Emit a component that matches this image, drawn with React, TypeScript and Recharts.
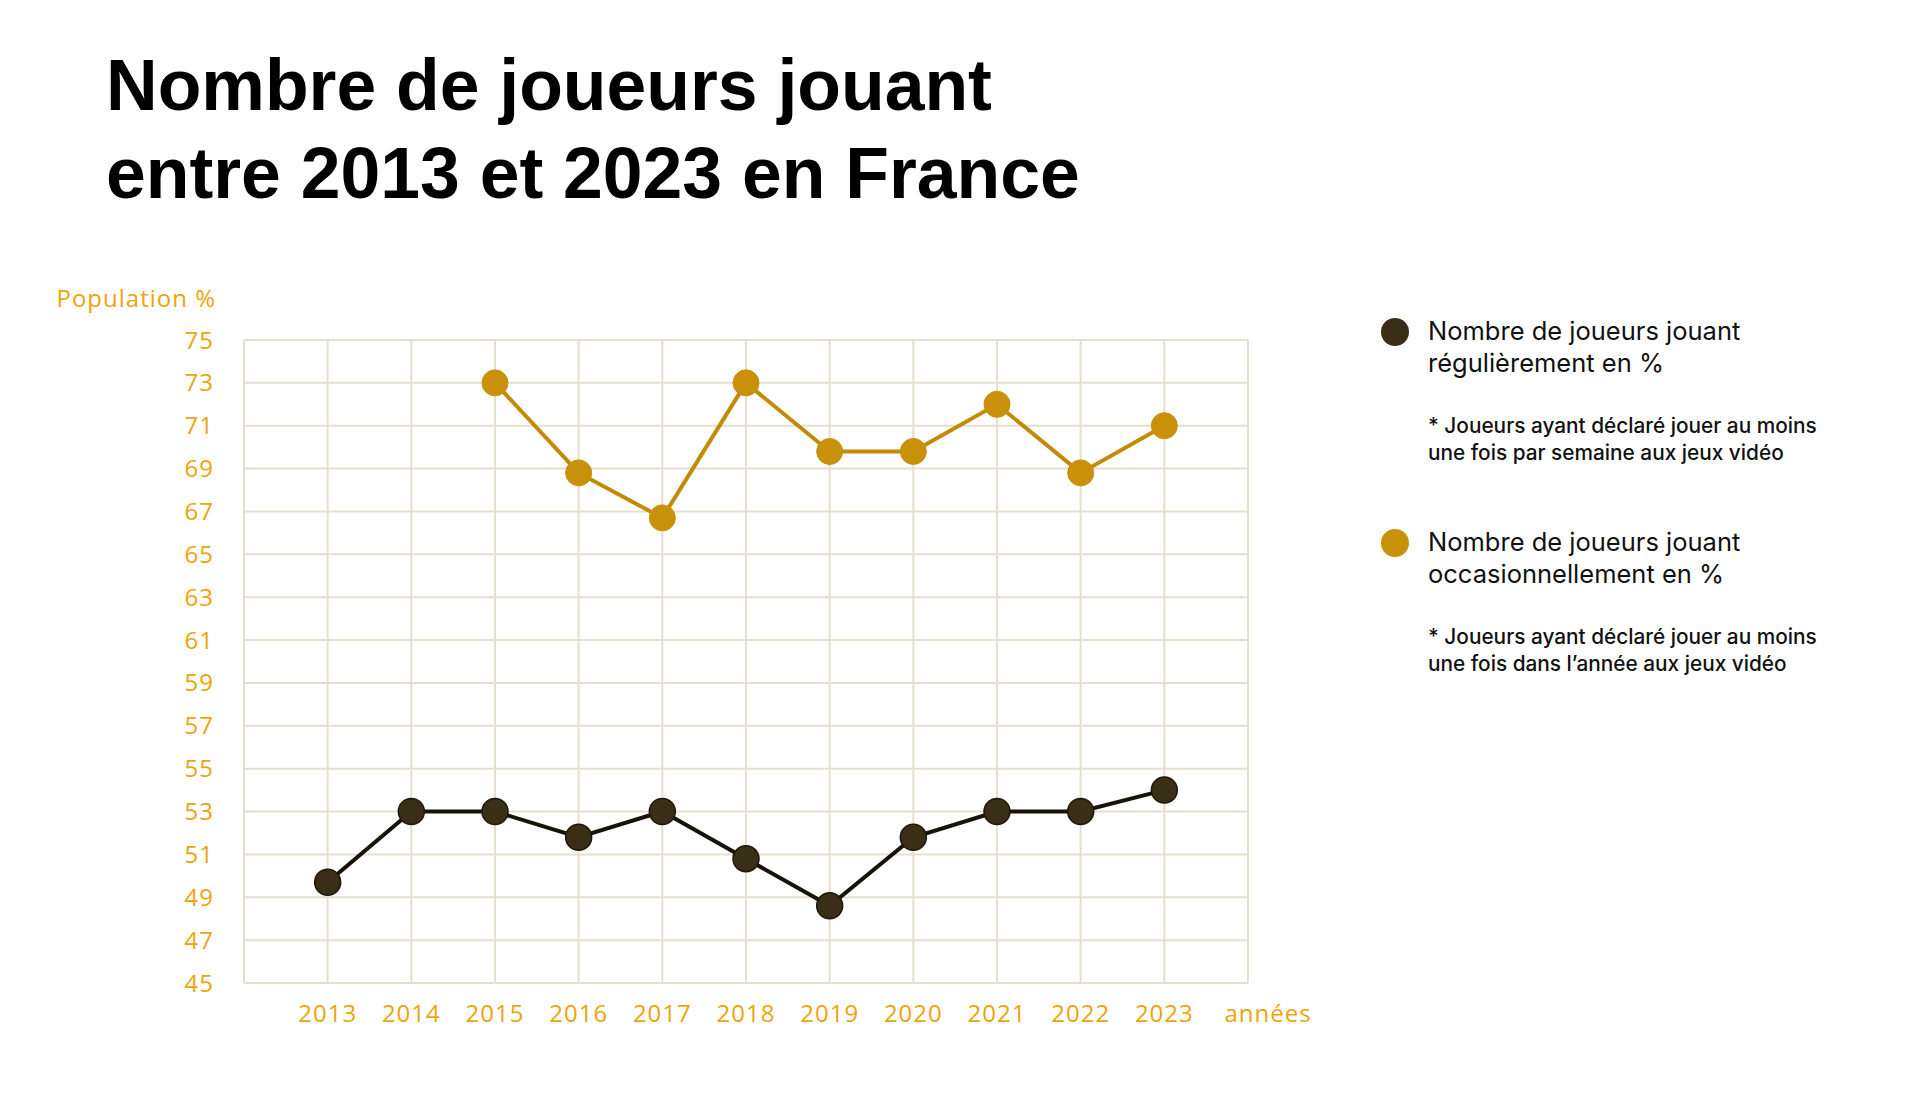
import React from "react";
import { LineChart, Line, XAxis, YAxis, CartesianGrid } from "recharts";

// values
const years = [2013, 2014, 2015, 2016, 2017, 2018, 2019, 2020, 2021, 2022, 2023];
const regular = [49.7, 53, 53, 51.8, 53, 50.8, 48.6, 51.8, 53, 53, 54];
const occasional = [null, null, 73, 68.8, 66.7, 73, 69.8, 69.8, 72, 68.8, 71];

const xTicks = [2012, 2013, 2014, 2015, 2016, 2017, 2018, 2019, 2020, 2021, 2022, 2023, 2024];
const yTicks = [45, 47, 49, 51, 53, 55, 57, 59, 61, 63, 65, 67, 69, 71, 73, 75];

const DARK = "#3a2f16";
const DARK_LINE = "#17130a";
const GOLD = "#c9910a";
const GOLD_LINE = "#c38a05";
const ORANGE = "#eea30b";
const GRID = "#e6dfd0";
const AXIS_FONT = "'Open Sans', sans-serif";

const data = years.map((year, i) => ({
  year,
  regular: regular[i],
  occasional: occasional[i]
}));

const legendItems = [
  {
    color: DARK,
    title: ["Nombre de joueurs jouant", "régulièrement en %"],
    note: ["* Joueurs ayant déclaré jouer au moins", "une fois par semaine aux jeux vidéo"],
    top: 316
  },
  {
    color: GOLD,
    title: ["Nombre de joueurs jouant", "occasionnellement en %"],
    note: ["* Joueurs ayant déclaré jouer au moins", "une fois dans l’année aux jeux vidéo"],
    top: 527
  }
];

function XTick({ x, y, payload }: any) {
  let label = String(payload.value);
  let dx = 0;
  if (payload.value === 2012) label = "";
  if (payload.value === 2024) {
    label = "années";
    dx = 20;
  }
  return (
    <text
      x={x + dx}
      y={y}
      dy="0.71em"
      textAnchor="middle"
      fill={ORANGE}
      fontSize={24}
      letterSpacing={1}
      fontFamily={AXIS_FONT}
    >
      {label}
    </text>
  );
}

export default function App() {
  return (
    <div
      style={{
        position: "fixed",
        left: 0,
        top: 0,
        width: 1920,
        height: 1109,
        background: "#fff",
        overflow: "hidden"
      }}
    >
      <div
        style={{
          position: "absolute",
          left: 106,
          top: 41,
          fontFamily: "'Liberation Sans', Arial, sans-serif",
          fontWeight: 700,
          fontSize: 71.5,
          lineHeight: "88px",
          color: "#000",
          whiteSpace: "nowrap"
        }}
      >
        Nombre de joueurs jouant
        <br />
        entre 2013 et 2023 en France
      </div>

      <div style={{ position: "absolute", left: 0, top: 0 }}>
        <LineChart
          width={1920}
          height={1109}
          data={data}
          margin={{ top: 340, right: 672, bottom: 66, left: 164 }}
        >
          <CartesianGrid stroke={GRID} strokeWidth={2} fill="none" />
          <XAxis
            dataKey="year"
            type="number"
            domain={[2012, 2024]}
            ticks={xTicks}
            interval={0}
            height={60}
            axisLine={false}
            tickLine={false}
            tickSize={0}
            tickMargin={22}
            tick={<XTick />}
          />
          <YAxis
            type="number"
            domain={[45, 75]}
            ticks={yTicks}
            interval={0}
            width={80}
            axisLine={false}
            tickLine={false}
            tickSize={0}
            tickMargin={30}
            tick={{ fill: ORANGE, fontSize: 24, fontFamily: AXIS_FONT, letterSpacing: 1 }}
            label={{
              content: ({ viewBox }: any) => (
                <text
                  x={viewBox.x + viewBox.width - 28}
                  y={viewBox.y - 33}
                  textAnchor="end"
                  fill={ORANGE}
                  fontSize={24}
                  letterSpacing={1}
                  fontFamily={AXIS_FONT}
                >
                  Population %
                </text>
              )
            }}
          />
          <Line
            type="linear"
            dataKey="occasional"
            stroke={GOLD_LINE}
            strokeWidth={4}
            dot={{ r: 13, fill: GOLD, stroke: GOLD, strokeWidth: 1 }}
            activeDot={false}
            isAnimationActive={false}
          />
          <Line
            type="linear"
            dataKey="regular"
            stroke={DARK_LINE}
            strokeWidth={4}
            dot={{ r: 13, fill: DARK, stroke: "#1e170a", strokeWidth: 1.5 }}
            activeDot={false}
            isAnimationActive={false}
          />
        </LineChart>
      </div>

      {legendItems.map((item) => (
        <div key={item.top}>
          <div
            style={{
              position: "absolute",
              left: 1381,
              top: item.top + 2,
              width: 28,
              height: 28,
              borderRadius: "50%",
              background: item.color
            }}
          />
          <div
            style={{
              position: "absolute",
              left: 1428,
              top: item.top - 1,
              fontFamily: "Inter, sans-serif",
              fontSize: 25.5,
              lineHeight: "32px",
              color: "#111",
              whiteSpace: "nowrap"
            }}
          >
            {item.title[0]}
            <br />
            {item.title[1]}
          </div>
          <div
            style={{
              position: "absolute",
              left: 1428,
              top: item.top + 96,
              fontFamily: "Inter, sans-serif",
              fontSize: 20.8,
              fontWeight: 500,
              lineHeight: "27px",
              color: "#111",
              whiteSpace: "nowrap"
            }}
          >
            {item.note[0]}
            <br />
            {item.note[1]}
          </div>
        </div>
      ))}
    </div>
  );
}
